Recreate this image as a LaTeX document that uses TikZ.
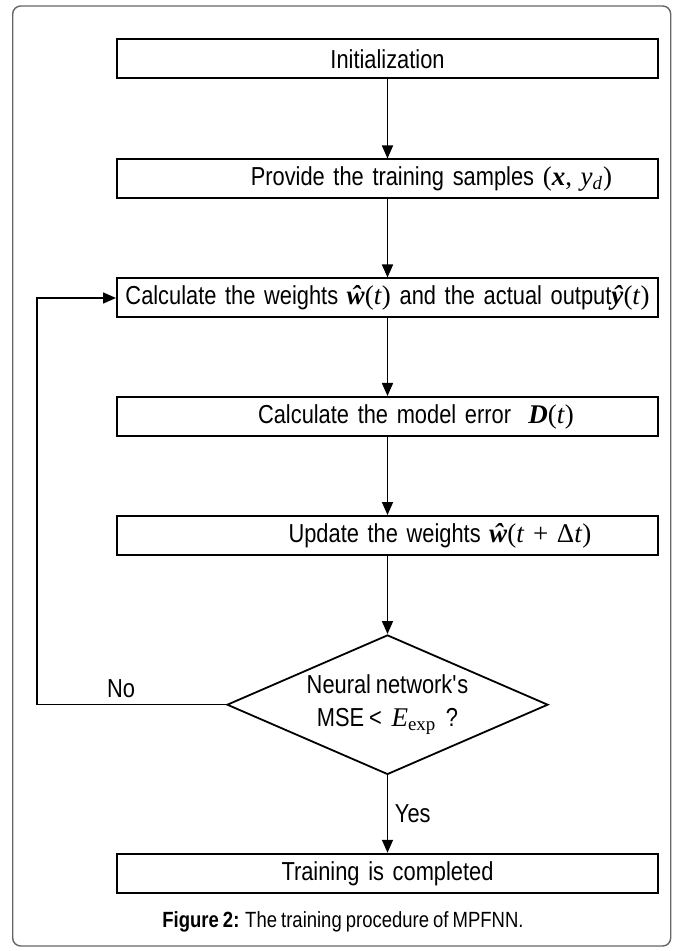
\documentclass[tikz,border=0pt]{standalone}
\usepackage{fontspec}
\setmainfont{Liberation Sans}[FakeStretch=0.84,WordSpace=0.8]
\newfontfamily\tnr{Liberation Serif}
\usetikzlibrary{arrows.meta,shapes.geometric}
\newcommand{\mf}[1]{{\tnr\fontsize{13.5}{16}\selectfont #1}}
\newcommand{\bi}[1]{\textbf{\textit{#1}}}

\begin{document}
\begin{tikzpicture}[x=0.5pt,y=-0.5pt,
  font=\fontsize{13}{16.5}\selectfont,
  box/.style={draw,line width=1pt,minimum height=19.5pt,text width=264.5pt,inner xsep=3pt,inner ysep=0pt,align=center},
  choice/.style={draw,diamond,line width=0.9pt,minimum width=160.5pt,minimum height=69.75pt,shape aspect=2.3,inner sep=0pt,align=center},
  flow/.style={line width=0.75pt,-{Triangle[length=6.5pt,width=5.5pt]}}]
\useasboundingbox (0,0) rectangle (680,951);
\draw[gray!80!black,line width=0.7pt,rounded corners=4pt] (12.7,6) rectangle (670.7,946);

\node[box] (I) at (387.5,59) {Initialization};
\node[box] (P) at (387.5,179) {\hspace*{44pt}Provide the training samples \mf{(\bi{x}, \textit{y}\textsubscript{\textit{d}})}};
\node[box] (W) at (387.5,298) {\mbox{Calculate the weights \mf{\bi{\^w}(\textit{t})} and the actual output\mf{\bi{\^y}(\textit{t})}}};
\node[box] (E) at (387.5,416.5) {\hspace*{28.5pt}Calculate the model error \ \mf{\bi{D}(\textit{t})}};
\node[box] (U) at (387.5,535.5) {\hspace*{52.5pt}Update the weights \mf{\bi{\^w}(\textit{t} + Δ\textit{t})}};
\node[choice] (Q) at (387.5,704.7) {Neural network\textquotesingle s\\MSE < \ \mf{\textit{E}\textsubscript{exp}} \ ?};
\node[box] (T) at (387.5,873.3) {Training is completed};
\node[font=\fontsize{11}{13}\selectfont] (F) at (343,921.8) {\textbf{Figure 2:} The training procedure of MPFNN.};

\coordinate (R) at (37,704.7);
\draw[flow] (I) -- (P);
\draw[flow] (P) -- (W);
\draw[flow] (W) -- (E);
\draw[flow] (E) -- (U);
\draw[flow] (U) -- (Q);
\draw[flow] (Q) -- node[midway,right] {Yes} (T);
\draw[flow] (Q.west) -- node[pos=0.555,above] {No} (R) |- (W.west);
\end{tikzpicture}
\end{document}
